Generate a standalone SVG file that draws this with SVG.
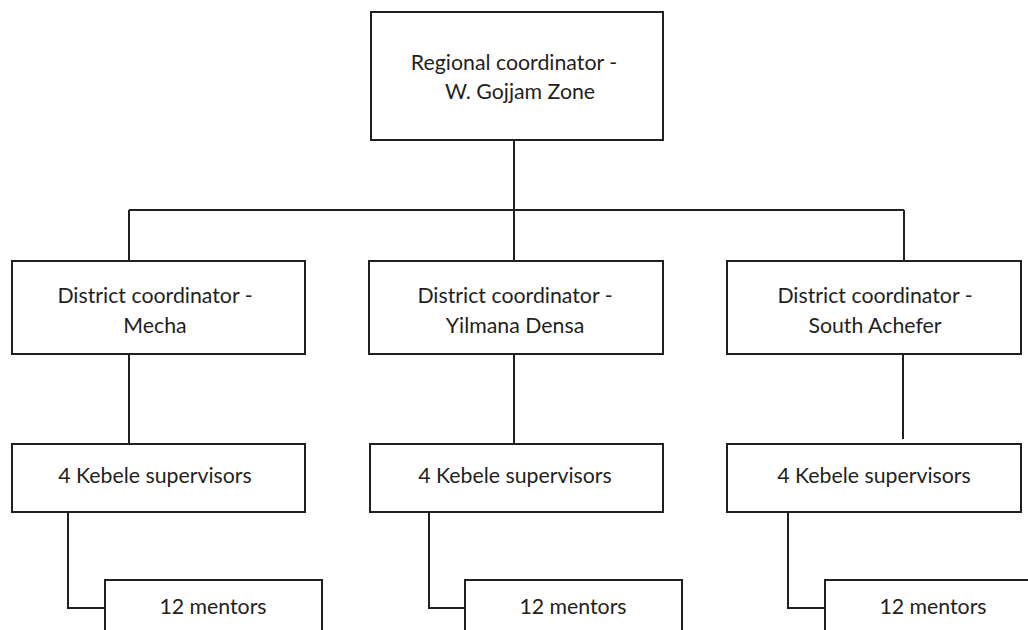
<svg xmlns="http://www.w3.org/2000/svg" width="1028" height="630" viewBox="0 0 1028 630">
<style>
.box{fill:#fff;stroke:#231f20;stroke-width:2}
.ln{fill:none;stroke:#231f20;stroke-width:2}
text{font-family:Lato,"Open Sans","Liberation Sans",sans-serif;font-size:21.3px;fill:#231f20;text-anchor:middle}
</style>
<rect width="1028" height="630" fill="#fff"/>
<g id="connectors">
<path class="ln" d="M514 140V210M129 210H904M129 210V261M514 210V261M904 210V261"/>
<path class="ln" d="M129 354V444M514 354V444M903 354V439"/>
<path class="ln" d="M68 512V608H105M429 512V608H465M788 512V608H825"/>
</g>
<g id="regional"><rect class="box" x="371" y="12" width="292" height="128"/><text x="514" y="70">Regional coordinator -</text><text x="520" y="99">W. Gojjam Zone</text></g>
<g id="district-mecha"><rect class="box" x="12" y="261" width="293" height="93"/><text x="155" y="303">District coordinator -</text><text x="155" y="333">Mecha</text></g>
<g id="district-yilmana"><rect class="box" x="369" y="261" width="294" height="93"/><text x="515" y="303">District coordinator -</text><text x="515" y="333">Yilmana Densa</text></g>
<g id="district-south"><rect class="box" x="727" y="261" width="294" height="93"/><text x="875" y="303">District coordinator -</text><text x="875" y="333">South Achefer</text></g>
<g id="kebele-mecha"><rect class="box" x="12" y="444" width="293" height="68"/><text x="155" y="483">4 Kebele supervisors</text></g>
<g id="kebele-yilmana"><rect class="box" x="370" y="444" width="293" height="68"/><text x="515" y="483">4 Kebele supervisors</text></g>
<g id="kebele-south"><rect class="box" x="727" y="444" width="294" height="68"/><text x="874" y="483">4 Kebele supervisors</text></g>
<g id="mentors-mecha"><rect class="box" x="105" y="580" width="217" height="70"/><text x="213" y="614">12 mentors</text></g>
<g id="mentors-yilmana"><rect class="box" x="465" y="580" width="217" height="70"/><text x="573" y="614">12 mentors</text></g>
<g id="mentors-south"><rect class="box" x="825" y="580" width="217" height="70"/><text x="933" y="614">12 mentors</text></g>
</svg>
